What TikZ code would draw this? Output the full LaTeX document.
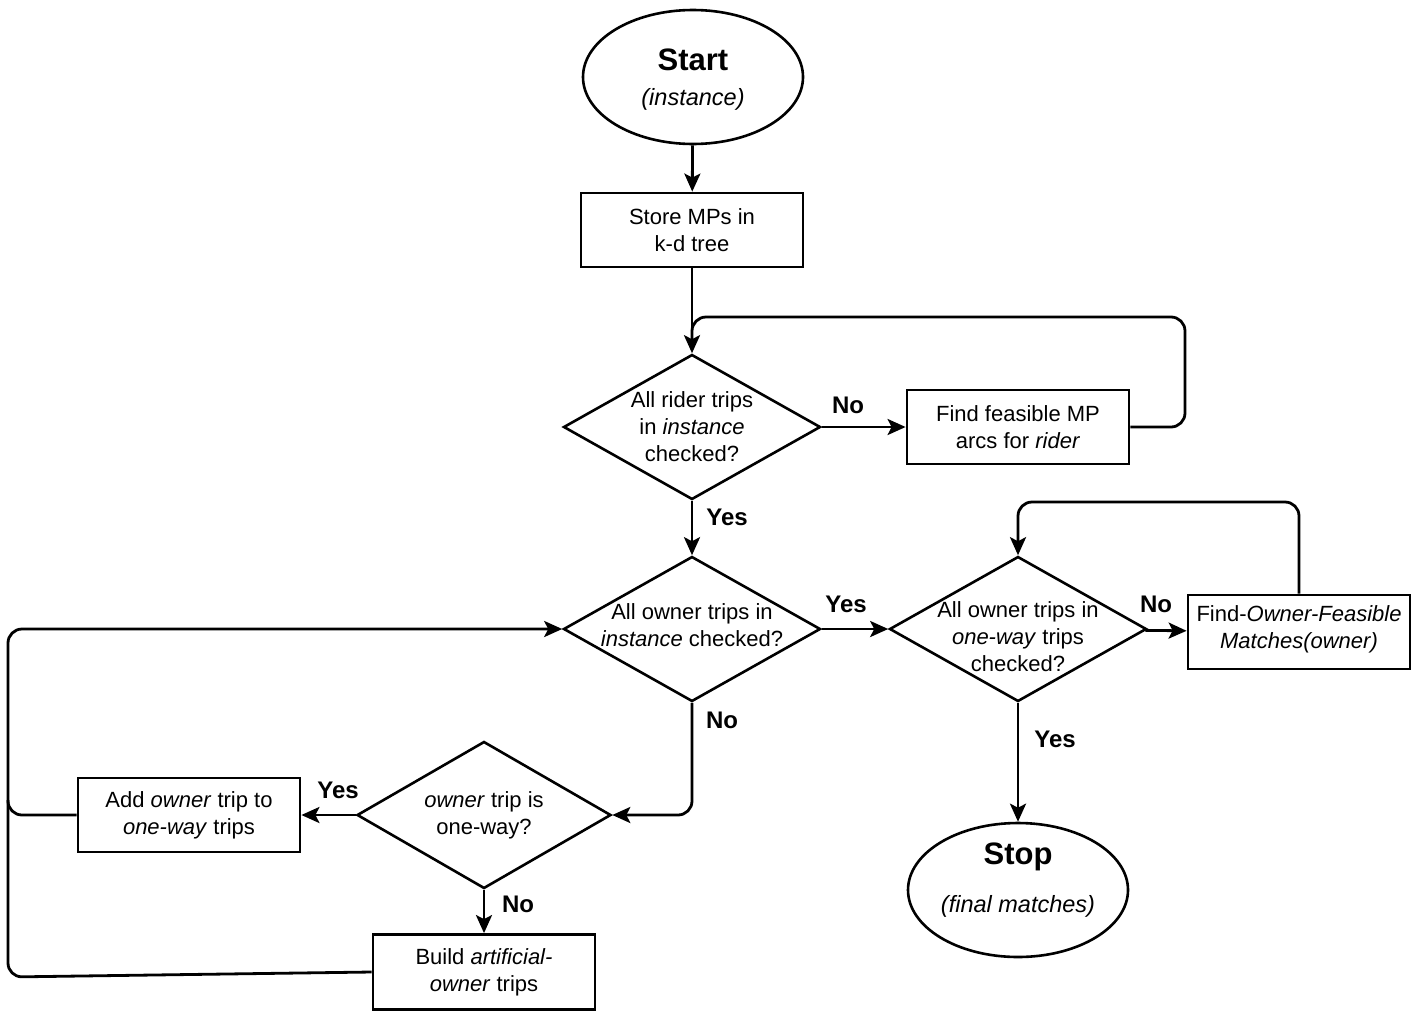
\documentclass[tikz,border=0pt]{standalone}
\usepackage{fontspec}
\setmainfont{Liberation Sans}
\usetikzlibrary{shapes.geometric,arrows.meta}
\begin{document}
\begin{tikzpicture}[x=1pt,y=-1pt,
  every node/.style={font=\fontsize{22}{27}\selectfont},
  line/.style={line width=2.8pt, line join=round},
  arr/.style={line, -{Stealth[length=18pt,width=16pt,inset=4pt]}},
  procbox/.style={draw, line width=2.8pt, minimum width=222pt, minimum height=74pt, inner sep=0pt, align=center},
  dia/.style={draw, diamond, line width=2.6pt, minimum width=257pt, minimum height=145pt, inner sep=0pt},
  dtxt/.style={align=center, inner sep=0pt},
  term/.style={draw, ellipse, line width=2.6pt, minimum width=220pt, minimum height=134pt, inner sep=0pt},
  ttl/.style={font=\fontsize{31}{34}\selectfont\bfseries, inner sep=0pt},
  sub/.style={font=\fontsize{23.5}{26}\selectfont\itshape, inner sep=0pt},
  lbl/.style={font=\fontsize{24}{28}\selectfont\bfseries, inner sep=0pt}]
\useasboundingbox (0,0) rectangle (1415,1012);

\node[term] (start) at (693,77) {};
\node[ttl] at (693,60) {Start};
\node[sub] at (693,99) {(instance)};
\node[procbox] (store) at (692,230) {Store MPs in\\k-d tree};
\node[dia] (d1) at (692,427) {};
\node[dtxt] at (d1) {All rider trips\\in \textit{instance}\\checked?};
\node[procbox] (fmp) at (1018,427) {Find feasible MP\\arcs for \textit{rider}};
\node[dia] (d2) at (692,629) {};
\node[dtxt] at (692,625) {All owner trips in\\\textit{instance} checked?};
\node[dia] (d3) at (1018,629) {};
\node[dtxt] at (1018,637) {All owner trips in\\\textit{one-way} trips\\checked?};
\node[procbox] (fom) at (1299,632) {};
\node[dtxt] at (1299,629) {Find-\textit{Owner-Feasible}\\\textit{Matches(owner)}};
\node[term] (stop) at (1018,890) {};
\node[ttl] at (1018,857) {Stop};
\node[sub] at (1018,906) {(final matches)};
\node[dia, minimum width=254pt, minimum height=147pt] (d4) at (484,815) {};
\node[dtxt] at (d4) {\textit{owner} trip is\\one-way?};
\node[procbox] (add) at (189,815) {Add \textit{owner} trip to\\\textit{one-way} trips};
\node[procbox, minimum height=75pt] (build) at (484,972) {Build \textit{artificial-}\\\textit{owner} trips};

\coordinate (j1) at (692,340);
\coordinate (j2) at (8,800);

\draw[arr] (start) -- (store);
\draw[arr] (store) -- (d1);
\draw[arr] (d1) -- (fmp);
\draw[line, rounded corners=14pt] (fmp.east) -- (1185,427) -- (1185,317) -- (692,317) -- (j1);
\draw[arr] (d1) -- (d2);
\draw[arr] (d2) -- (d3);
\draw[arr] (d3) -- (fom);
\draw[arr, rounded corners=14pt] (fom.north) -- (1299,502) -- (1018,502) -- (d3.north);
\draw[arr] (d3) -- (stop);
\draw[arr, rounded corners=14pt] (d2.south) -- (692,815) -- (d4.east);
\draw[arr] (d4) -- (add);
\draw[arr, rounded corners=14pt] (add.west) -- (8,815) -- (8,629) -- (d2.west);
\draw[arr] (d4) -- (build);
\draw[line, rounded corners=14pt] (build.west) -- (8,977) -- (j2);

\node[lbl] at (848,405) {No};
\node[lbl] at (727,517) {Yes};
\node[lbl] at (846,604) {Yes};
\node[lbl] at (1156,604) {No};
\node[lbl] at (1055,739) {Yes};
\node[lbl] at (722,720) {No};
\node[lbl] at (338,790) {Yes};
\node[lbl] at (518,904) {No};
\end{tikzpicture}
\end{document}
